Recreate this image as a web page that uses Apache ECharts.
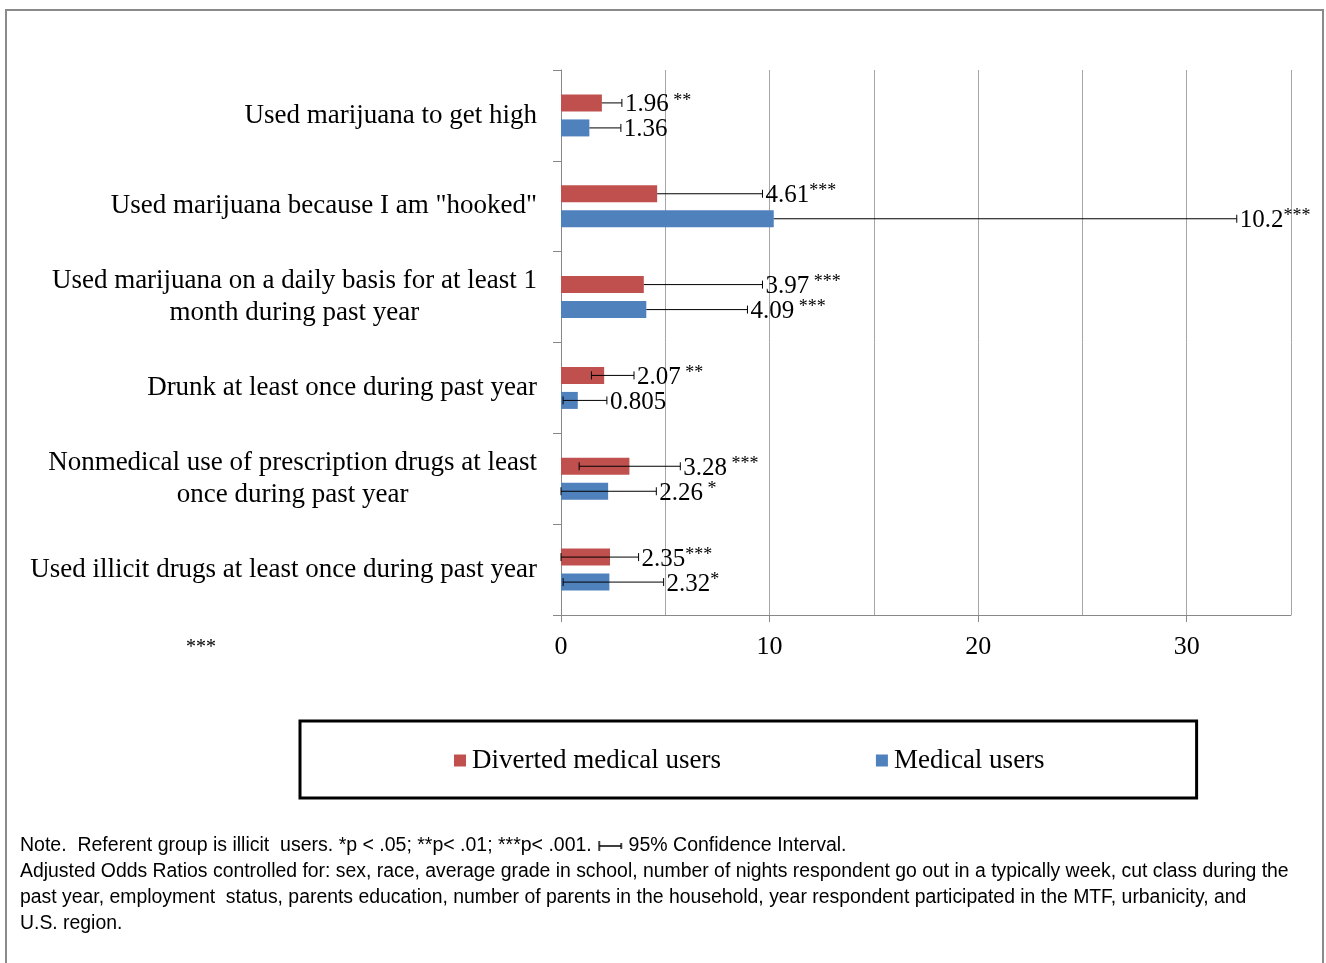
<!DOCTYPE html>
<html>
<head>
<meta charset="utf-8">
<script src="https://cdn.jsdelivr.net/npm/echarts@6/dist/echarts.min.js"></script>
<style>html,body{margin:0;padding:0;background:#fff;}#c{width:1326px;height:963px;}</style>
</head>
<body>
<div id="c"></div>
<script>
const categories = [
  'Used marijuana to get high',
  'Used marijuana because I am "hooked"',
  'Used marijuana on a daily basis for at least 1\nmonth during past year',
  'Drunk at least once during past year',
  'Nonmedical use of prescription drugs at least\nonce during past year',
  'Used illicit drugs at least once during past year'
];
const seriesNames = ['Diverted medical users', 'Medical users'];
const divertedOR = [1.96, 4.61, 3.97, 2.07, 3.28, 2.35];
const medicalOR = [1.36, 10.2, 4.09, 0.805, 2.26, 2.32];
const divertedLow = [null, null, null, 1.46, 0.87, 0];
const divertedHigh = [2.92, 9.66, 9.66, 3.5, 5.72, 3.72];
const medicalLow = [null, null, null, 0.1, 0, 0.1];
const medicalHigh = [2.87, 32.4, 8.94, 2.2, 4.57, 4.92];
const divertedStars = [' **', '***', ' ***', ' **', ' ***', '***'];
const medicalStars = ['', '***', ' ***', '', ' *', '*'];
const xTickValues = [0, 10, 20, 30];

const SERIF = "'Liberation Serif', 'Times New Roman', serif";
const SANS = "'Liberation Sans', Arial, sans-serif";
const BAR_W = 17, BAR_GAP = 8;
const OFF = (BAR_W + BAR_GAP) / 2;

// small error-bar icon for the note
const icon = document.createElement('canvas');
icon.width = 26; icon.height = 12;
(function () {
  const g = icon.getContext('2d');
  g.strokeStyle = '#000'; g.lineWidth = 1.5;
  g.beginPath();
  g.moveTo(2, 1); g.lineTo(2, 11);
  g.moveTo(2, 6); g.lineTo(24, 6);
  g.moveTo(24, 3); g.lineTo(24, 9);
  g.stroke();
})();

function makeErr(lows, highs, ors, stars, off) {
  return function (params, api) {
    const i = params.dataIndex;
    const yc = api.coord([0, i])[1] + off;
    const xh = api.coord([highs[i], i])[0];
    const xo = api.coord([ors[i], i])[0];
    const hasLow = lows[i] != null;
    const xl = hasLow ? api.coord([lows[i], i])[0] : xo;
    const st = { stroke: '#000', lineWidth: 1 };
    const children = [
      { type: 'line', shape: { x1: xl, y1: yc, x2: xh, y2: yc }, style: st },
      { type: 'line', shape: { x1: xh, y1: yc - 4, x2: xh, y2: yc + 4 }, style: st }
    ];
    if (hasLow) {
      children.push({ type: 'line', shape: { x1: xl, y1: yc - 4, x2: xl, y2: yc + 4 }, style: st });
    }
    children.push({
      type: 'text',
      style: {
        x: xh + 3, y: yc + 2,
        text: '{v|' + String(ors[i]) + '}' + (stars[i] ? '{s|' + stars[i] + '}' : ''),
        verticalAlign: 'middle', align: 'left',
        rich: {
          v: { fontSize: 25, fontFamily: SERIF, fill: '#000', lineHeight: 26 },
          s: { fontSize: 18, fontFamily: SERIF, fill: '#000', lineHeight: 14, verticalAlign: 'top' }
        }
      }
    });
    return { type: 'group', children: children };
  };
}

const chart = echarts.init(document.getElementById('c'), null, { renderer: 'canvas' });
chart.setOption({
  backgroundColor: '#fff',
  animation: false,
  grid: { left: 561, right: 35, top: 70, bottom: 348, containLabel: false },
  legend: {
    data: seriesNames,
    left: 300, top: 721,
    padding: [26, 152, 24, 154],
    borderColor: '#000', borderWidth: 3,
    itemWidth: 12, itemHeight: 12, itemGap: 155,
    icon: 'rect',
    textStyle: { fontFamily: SERIF, fontSize: 27, color: '#000', padding: [0, 0, 0, 1] }
  },
  xAxis: [{
    type: 'value', min: 0, max: 35, interval: 5,
    axisLine: { show: true, lineStyle: { color: '#888' } },
    axisTick: { show: true, customValues: xTickValues, length: 7, lineStyle: { color: '#888' } },
    axisLabel: { customValues: xTickValues, fontFamily: SERIF, fontSize: 26, color: '#000', margin: 19 },
    splitLine: { show: false }
  }, {
    type: 'value', min: 0, max: 35, interval: 5, position: 'bottom',
    axisLine: { show: false }, axisTick: { show: false }, axisLabel: { show: false },
    splitLine: { show: true, lineStyle: { color: '#a6a6a6' } }
  }],
  yAxis: {
    type: 'category', inverse: true, data: categories,
    axisLine: { show: true, lineStyle: { color: '#888' } },
    axisTick: { show: true, length: 8, lineStyle: { color: '#888' } },
    axisLabel: {
      margin: 24,
      formatter: function (v) { return v.split('\n').map(function (l) { return '{c|' + l + '}'; }).join('\n'); },
      rich: { c: { align: 'center', fontFamily: SERIF, fontSize: 27, color: '#000', lineHeight: 32 } }
    }
  },
  series: [
    { name: seriesNames[0], type: 'bar', data: divertedOR, barWidth: BAR_W, barGap: (BAR_GAP / BAR_W * 100) + '%',
      itemStyle: { color: '#C0504D' } },
    { name: seriesNames[1], type: 'bar', data: medicalOR, barWidth: BAR_W,
      itemStyle: { color: '#4F81BD' } },
    { type: 'custom', name: 'errD', data: divertedHigh.map(function (h, i) { return [h, i]; }),
      encode: { x: 0, y: 1 }, z: 5, renderItem: makeErr(divertedLow, divertedHigh, divertedOR, divertedStars, -OFF) },
    { type: 'custom', name: 'errM', data: medicalHigh.map(function (h, i) { return [h, i]; }),
      encode: { x: 0, y: 1 }, z: 5, renderItem: makeErr(medicalLow, medicalHigh, medicalOR, medicalStars, OFF) }
  ],
  graphic: [
    { type: 'rect', shape: { x: 6, y: 10, width: 1317, height: 970 }, style: { fill: 'none', stroke: '#8a8a8a', lineWidth: 2 }, silent: true },
    { type: 'text', left: 186, top: 638, style: { text: '***', fontFamily: SERIF, fontSize: 20, fill: '#000' } },
    { type: 'text', left: 20, top: 836, style: {
        text: '{a|Note.  Referent group is illicit  users. *p < .05; **p< .01; ***p< .001. }{i|}{a| 95% Confidence Interval.}',
        rich: {
          a: { fontFamily: SANS, fontSize: 19.5, fill: '#000', lineHeight: 26 },
          i: { width: 26, height: 12, backgroundColor: { image: icon } }
        } } },
    { type: 'text', left: 20, top: 859, style: {
        text: 'Adjusted Odds Ratios controlled for: sex, race, average grade in school, number of nights respondent go out in a typically week, cut class during the\npast year, employment  status, parents education, number of parents in the household, year respondent participated in the MTF, urbanicity, and\nU.S. region.',
        fontFamily: SANS, fontSize: 19.4, fill: '#000', lineHeight: 26 } }
  ]
});
</script>
</body>
</html>
